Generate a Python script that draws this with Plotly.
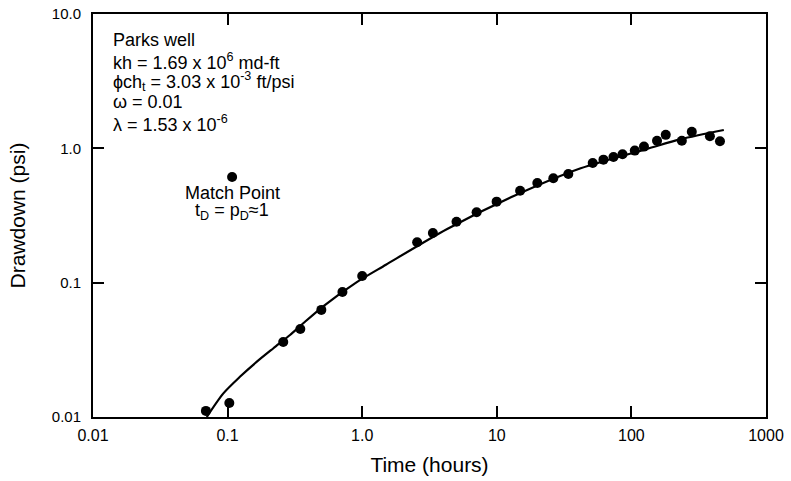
import plotly.graph_objects as go

# Measured drawdown data (time in hours, drawdown in psi)
time_h = [0.069, 0.103, 0.259, 0.347, 0.497, 0.713, 1.0, 2.56, 3.35, 5.02, 7.08, 9.97,
          14.9, 20.0, 26.3, 34.0, 51.6, 62.0, 73.6, 85.9, 106, 124, 155, 180, 237, 281, 383, 455]
drawdown = [0.0111, 0.0127, 0.0362, 0.0452, 0.0627, 0.0853, 0.112, 0.200, 0.234, 0.284, 0.334, 0.401,
            0.484, 0.552, 0.598, 0.644, 0.778, 0.824, 0.863, 0.904, 0.962, 1.03, 1.14, 1.26, 1.14, 1.33, 1.23, 1.13]

# Type-curve match (solid line)
curve_t = [0.070, 0.093, 0.124, 0.165, 0.219, 0.291, 0.365, 0.519, 0.912, 1.5, 4.28, 13.5, 42.0, 131, 233, 486]
curve_p = [0.0100, 0.0150, 0.0200, 0.0258, 0.0325, 0.0408, 0.0499, 0.0673, 0.101, 0.136, 0.251, 0.443, 0.71, 0.99, 1.17, 1.37]

match_t = [0.108]
match_p = [0.612]

x_ticks = [0.01, 0.1, 1, 10, 100, 1000]
x_labels = ["0.01", "0.1", "1.0", "10", "100", "1000"]
y_ticks = [0.01, 0.1, 1, 10]
y_labels = ["0.01", "0.1", "1.0", "10.0"]

info_lines = ["Parks well",
              "kh = 1.69 x 10<sup>6</sup> md-ft",
              "ϕch<sub>t</sub> = 3.03 x 10<sup>-3</sup> ft/psi",
              "ω = 0.01",
              "λ = 1.53 x 10<sup>-6</sup>"]
match_lines = ["Match Point", "t<sub>D</sub> = p<sub>D</sub>≈1"]

FONT = "Liberation Sans, Arial, sans-serif"
INK = "#000000"

fig = go.Figure()
fig.add_trace(go.Scatter(x=curve_t, y=curve_p, mode="lines",
                         line=dict(color=INK, width=2.2, shape="spline", smoothing=0.8),
                         showlegend=False, hoverinfo="skip"))
fig.add_trace(go.Scatter(x=time_h, y=drawdown, mode="markers",
                         marker=dict(color=INK, size=10), showlegend=False))
fig.add_trace(go.Scatter(x=match_t, y=match_p, mode="markers",
                         marker=dict(color=INK, size=10), showlegend=False))

axis_common = dict(type="log", showgrid=False, zeroline=False, showline=True,
                   linecolor=INK, linewidth=2, mirror="allticks", ticks="inside",
                   ticklen=11, tickwidth=1.5, tickcolor=INK, automargin=False)

fig.update_xaxes(**axis_common, range=[-2, 3], tickvals=x_ticks, ticktext=x_labels,
                 tickfont=dict(family=FONT, size=16, color=INK), ticklabelstandoff=3,
                 title=dict(text="Time (hours)", font=dict(family=FONT, size=21, color=INK), standoff=14))
fig.update_yaxes(**axis_common, range=[-2, 1], tickvals=y_ticks, ticktext=y_labels,
                 tickfont=dict(family=FONT, size=15, color=INK), ticklabelstandoff=7,
                 title=dict(text="Drawdown (psi)", font=dict(family=FONT, size=21, color=INK), standoff=20))

H = 481.0
T, B = 14, 64
plot_h = H - T - B
info_y_px = [40, 61.5, 81.5, 101.5, 123]
for line, ypx in zip(info_lines, info_y_px):
    fig.add_annotation(xref="paper", yref="paper", x=(111 - 93) / 673.0,
                       y=1 - (ypx - T) / plot_h, xanchor="left", yanchor="middle",
                       text=line, showarrow=False, align="left",
                       font=dict(family=FONT, size=18, color=INK))

match_y_px = [193, 211]
for line, ypx in zip(match_lines, match_y_px):
    fig.add_annotation(xref="paper", yref="paper", x=(232 - 93) / 673.0,
                       y=1 - (ypx - T) / plot_h, xanchor="center", yanchor="middle",
                       text=line, showarrow=False, align="center",
                       font=dict(family=FONT, size=18, color=INK))

fig.update_layout(width=791, height=481, margin=dict(l=93, r=25, t=T, b=B, autoexpand=False),
                  paper_bgcolor="white", plot_bgcolor="white", showlegend=False)

fig.write_html("out.html")
